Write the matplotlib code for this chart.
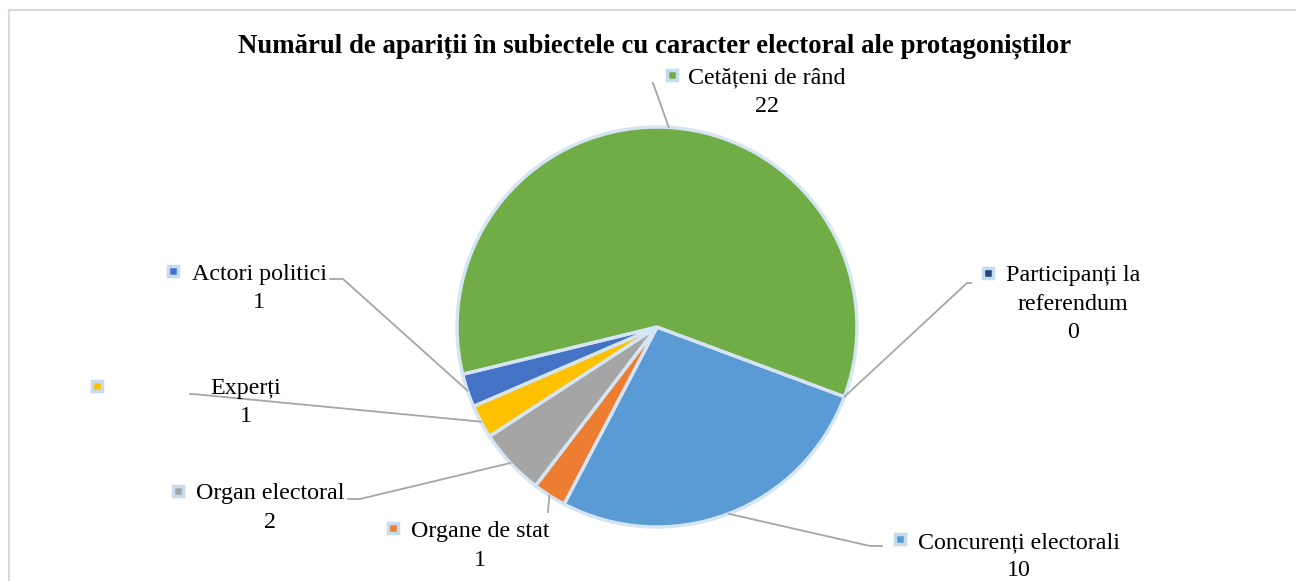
import numpy as np
import matplotlib.pyplot as plt
from matplotlib.lines import Line2D

# data (Excel order, clockwise)
categories = ["Participanți la referendum", "Concurenți electorali", "Organe de stat",
              "Organ electoral", "Experți", "Actori politici", "Cetățeni de rând"]
values = [0, 10, 1, 2, 1, 1, 22]
colors = ["#264478", "#5B9BD5", "#ED7D31", "#A5A5A5", "#FFC000", "#4472C4", "#70AD47"]
title = "Numărul de apariții în subiectele cu caracter electoral ale protagoniștilor"

W, H = 1296, 581
center = (657, 327)  # px, top-left origin
radius = 200
start = -20.4

# label layout: text lines, text center x, first line y, marker pos, leader elbow points
label_lines = [["Participanți la", "referendum"], ["Concurenți electorali"], ["Organe de stat"],
               ["Organ electoral"], ["Experți"], ["Actori politici"], ["Cetățeni de rând"]]
text_xy = [(1073, 273), (1019, 540), (480, 529), (270, 491), (246, 386), (259, 272), (767, 75)]
marker_xy = [(988, 273), (900, 539), (393, 528), (178, 491), (97, 386), (173, 271), (672, 75)]
leader_pts = [[(967, 283), (971, 283)], [(870, 546), (882, 546)], [(548, 512)],
              [(360, 499), (348, 499)], [(193, 394), (190, 394)], [(343, 279), (330, 279)],
              [(653, 83)]]

serif = ["Liberation Serif", "DejaVu Serif"]
line_h = 28.5


def Y(y):
    return H - y


fig = plt.figure(figsize=(W / 100, H / 100), dpi=100)
ax = fig.add_axes([0, 0, 1, 1])
ax.pie(values, colors=colors, startangle=start, counterclock=False,
       center=(center[0], Y(center[1])), radius=radius,
       wedgeprops=dict(edgecolor="#D6E5F4", linewidth=2.5))
ax.set_xlim(0, W)
ax.set_ylim(0, H)
ax.set_aspect("equal")
ax.axis("off")

# frame border (only left and top visible)
ax.add_line(Line2D([8.5, 8.5], [Y(9.5), 0], color="#D9D9D9", lw=1.5))
ax.add_line(Line2D([8.5, W], [Y(9.5), Y(9.5)], color="#D9D9D9", lw=1.5))

ax.text(655, Y(46), title, ha="center", va="center", fontsize=19.3,
        fontweight="bold", family=serif)

total = sum(values)
ang = start
for i, v in enumerate(values):
    span = 360 * v / total
    mid = np.deg2rad(ang - span / 2)
    ang -= span
    # point on pie edge
    px = center[0] + radius * np.cos(mid)
    py = center[1] - radius * np.sin(mid)
    pts = [(px, py)] + leader_pts[i]
    ax.plot([p[0] for p in pts], [Y(p[1]) for p in pts], color="#A6A6A6", lw=1.3, zorder=1)

    lines = label_lines[i] + [str(v)]
    tx, ty = text_xy[i]
    for k, s in enumerate(lines):
        ax.text(tx, Y(ty + k * line_h), s, ha="center", va="center_baseline",
                fontsize=17.3, family=serif, color="black")
    mx, my = marker_xy[i]
    ax.plot(mx, Y(my), marker="s", ms=7.5, mfc=colors[i], mec="#C5DCF0", mew=2.5)

fig.savefig("out.png", dpi=100)
